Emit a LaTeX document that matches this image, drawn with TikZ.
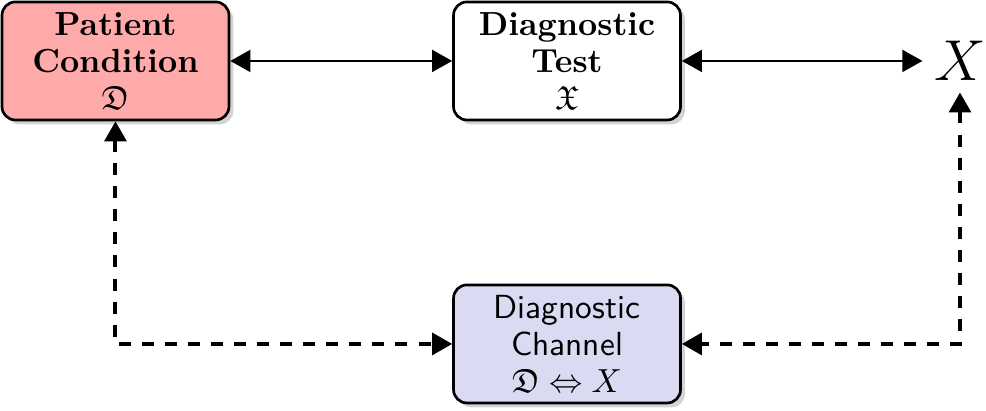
\documentclass[tikz,border=0pt]{standalone}
\usepackage{amssymb}
\usetikzlibrary{arrows.meta,shadows}
\definecolor{conditionfill}{RGB}{255,170,170}
\definecolor{channelfill}{RGB}{218,218,242}

\begin{document}
\begin{tikzpicture}[
    block/.style={draw,thick,rounded corners=4pt,align=center,inner sep=2pt,
        minimum width=\boxwidth cm,minimum height=\boxheight cm,
        drop shadow={shadow xshift=1.3pt,shadow yshift=-1.3pt,opacity=0.35}},
    boldblock/.style={block,font=\bfseries\fontsize{10}{11.2}\selectfont},
    link/.style={thick,{Triangle[length=6pt,width=6.5pt]}-{Triangle[length=6pt,width=6.5pt]}},
    dashlink/.style={link,line width=1.2pt,dash pattern=on 3.6pt off 3.3pt}]
    \pgfmathsetmacro{\boxwidth}{2.39}
    \pgfmathsetmacro{\boxheight}{1.243}
    \pgfmathsetmacro{\topy}{3.686}
    \pgfmathsetmacro{\boty}{0.706}
    \pgfmathsetmacro{\leftx}{1.216}
    \pgfmathsetmacro{\midx}{5.971}
    \pgfmathsetmacro{\rightx}{10.109}
    \useasboundingbox (0,0) rectangle (10.383,4.328);
    % top row
    \node[boldblock,fill=conditionfill] (condition) at (\leftx,\topy) {Patient\\Condition\\$\mathfrak{D}$};
    \node[boldblock,fill=white] (test) at (\midx,\topy) {Diagnostic\\Test\\$\mathfrak{X}$};
    \node (obs) at (\rightx,\topy) {\LARGE $X$};
    % channel
    \node[block,fill=channelfill,font=\sffamily\fontsize{10}{11.2}\selectfont] (channel) at (\midx,\boty) {Diagnostic\\Channel\\$\mathfrak{D}\Leftrightarrow X$};
    \draw[link] (condition) -- (test);
    \draw[link] (test) -- (obs);
    \draw[dashlink] (condition) |- (channel);
    \draw[dashlink] (obs) |- (channel);
\end{tikzpicture}
\end{document}
